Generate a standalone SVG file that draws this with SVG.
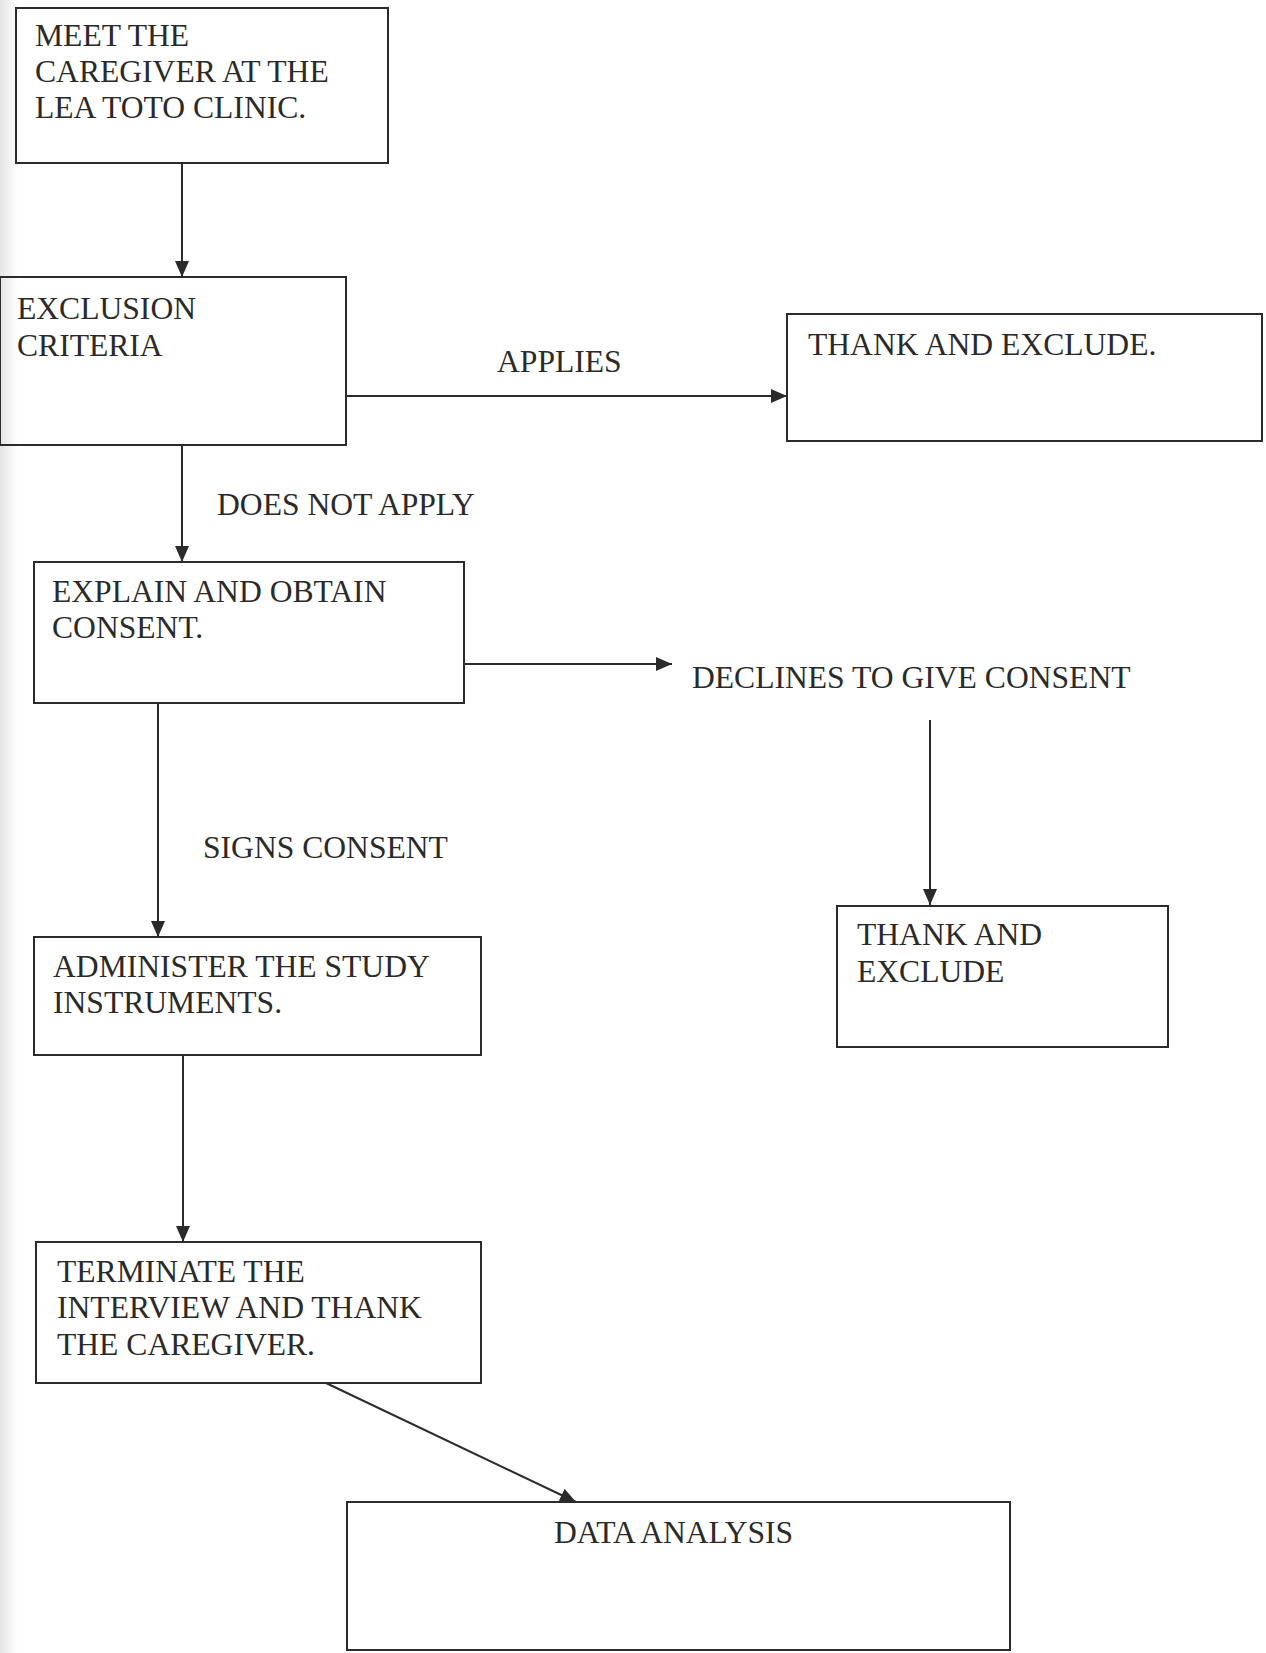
<svg xmlns="http://www.w3.org/2000/svg" width="1266" height="1653" viewBox="0 0 1266 1653">
<style>
.box{fill:none;stroke:#2b2b2b;stroke-width:2}
.t{font-family:"Liberation Serif","Times New Roman",serif;font-size:31.6px;fill:#2a2a2a}
.c{fill:none;stroke:#2b2b2b;stroke-width:2;marker-end:url(#ah)}
</style>
<defs>
<marker id="ah" markerUnits="userSpaceOnUse" markerWidth="18" markerHeight="14" refX="16" refY="7" orient="auto">
<path d="M0,0 L16,7 L0,14 Z" fill="#2b2b2b"/>
</marker>
<linearGradient id="edge" x1="0" y1="0" x2="1" y2="0">
<stop offset="0" stop-color="#e4e4e4"/>
<stop offset="1" stop-color="#ffffff"/>
</linearGradient>
</defs>
<rect width="1266" height="1653" fill="#ffffff"/>
<rect width="18" height="1653" fill="url(#edge)"/>
<g id="connectors">
<line class="c" x1="182" y1="163" x2="182" y2="277"/>
<line class="c" x1="346" y1="396" x2="787" y2="396"/>
<line class="c" x1="182" y1="445" x2="182" y2="562"/>
<line class="c" x1="464" y1="664" x2="672" y2="664"/>
<line class="c" x1="930" y1="720" x2="930" y2="905"/>
<line class="c" x1="158" y1="703" x2="158" y2="937"/>
<line class="c" x1="183" y1="1055" x2="183" y2="1242"/>
<line class="c" x1="326" y1="1383" x2="576" y2="1502"/>
<text class="t" x="497" y="372">APPLIES</text>
<text class="t" x="217" y="515">DOES NOT APPLY</text>
<text class="t" x="692" y="688">DECLINES TO GIVE CONSENT</text>
<text class="t" x="203" y="858">SIGNS CONSENT</text>
</g>
<g id="meet">
<rect class="box" x="16" y="8" width="372" height="155"/>
<text class="t" x="35" y="46">MEET THE</text>
<text class="t" x="35" y="82">CAREGIVER AT THE</text>
<text class="t" x="35" y="118">LEA TOTO CLINIC.</text>
</g>
<g id="exclusion">
<rect class="box" x="0" y="277" width="346" height="168"/>
<text class="t" x="17" y="319">EXCLUSION</text>
<text class="t" x="17" y="356">CRITERIA</text>
</g>
<g id="thank1">
<rect class="box" x="787" y="314" width="475" height="127"/>
<text class="t" x="808" y="355">THANK AND EXCLUDE.</text>
</g>
<g id="consent">
<rect class="box" x="34" y="562" width="430" height="141"/>
<text class="t" x="52" y="602">EXPLAIN AND OBTAIN</text>
<text class="t" x="52" y="638">CONSENT.</text>
</g>
<g id="thank2">
<rect class="box" x="837" y="906" width="331" height="141"/>
<text class="t" x="857" y="945">THANK AND</text>
<text class="t" x="857" y="982">EXCLUDE</text>
</g>
<g id="administer">
<rect class="box" x="34" y="937" width="447" height="118"/>
<text class="t" x="53" y="977">ADMINISTER THE STUDY</text>
<text class="t" x="53" y="1013">INSTRUMENTS.</text>
</g>
<g id="terminate">
<rect class="box" x="36" y="1242" width="445" height="141"/>
<text class="t" x="57" y="1282">TERMINATE THE</text>
<text class="t" x="57" y="1318">INTERVIEW AND THANK</text>
<text class="t" x="57" y="1355">THE CAREGIVER.</text>
</g>
<g id="analysis">
<rect class="box" x="347" y="1502" width="663" height="148"/>
<text class="t" x="554" y="1543">DATA ANALYSIS</text>
</g>
</svg>
